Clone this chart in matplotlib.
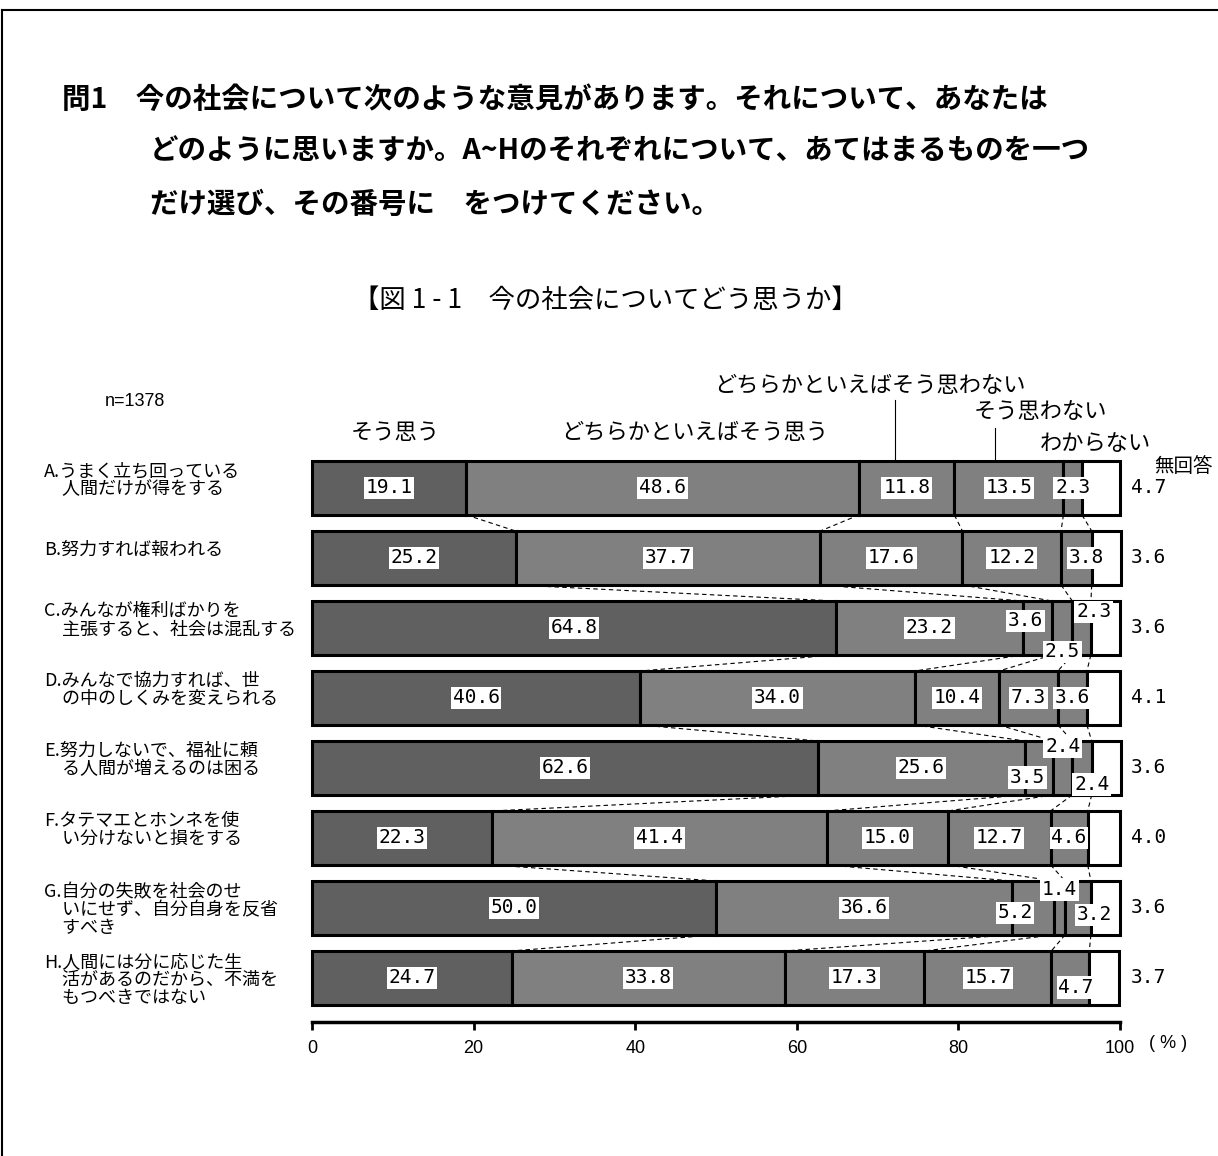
import numpy as np
import matplotlib.pyplot as plt
from matplotlib.lines import Line2D

plt.rcParams['font.family'] = ['Noto Sans CJK JP', 'DejaVu Sans']

# ---- data ----
categories = [
    "A.うまく立ち回っている\n　人間だけが得をする",
    "B.努力すれば報われる",
    "C.みんなが権利ばかりを\n　主張すると、社会は混乱する",
    "D.みんなで協力すれば、世\n　の中のしくみを変えられる",
    "E.努力しないで、福祉に頼\n　る人間が増えるのは困る",
    "F.タテマエとホンネを使\n　い分けないと損をする",
    "G.自分の失敗を社会のせ\n　いにせず、自分自身を反省\n　すべき",
    "H.人間には分に応じた生\n　活があるのだから、不満を\n　もつべきではない",
]
series_names = ["そう思う", "どちらかといえばそう思う", "どちらかといえばそう思わない",
                "そう思わない", "わからない", "無回答"]
so_omou = [19.1, 25.2, 64.8, 40.6, 62.6, 22.3, 50.0, 24.7]
dochira_omou = [48.6, 37.7, 23.2, 34.0, 25.6, 41.4, 36.6, 33.8]
dochira_omowanai = [11.8, 17.6, 3.6, 10.4, 3.5, 15.0, 5.2, 17.3]
omowanai = [13.5, 12.2, 2.5, 7.3, 2.4, 12.7, 1.4, 15.7]
wakaranai = [2.3, 3.8, 2.3, 3.6, 2.4, 4.6, 3.2, 4.7]
mukaitou = [4.7, 3.6, 3.6, 4.1, 3.6, 4.0, 3.6, 3.7]
n_total = 1378

# label nudges for the narrow segments: (row, segment) -> (dx in %, dy in bar units)
label_shift = {
    (1, 4): (1.2, 0.0),
    (2, 2): (-1.5, -0.1), (2, 3): (0.0, 0.34), (2, 4): (1.5, -0.23),
    (4, 2): (-1.4, 0.14), (4, 3): (0.0, -0.3), (4, 4): (1.2, 0.24),
    (6, 2): (-2.2, 0.07), (6, 3): (0.0, -0.26), (6, 4): (2.0, 0.1),
    (7, 4): (0.7, 0.14),
}

W, H = 1218, 1156
fig = plt.figure(figsize=(W / 100, H / 100), dpi=100)


def fx(x):
    return x / W


def fy(y):
    return 1 - y / H


# page frame (top + left)
fig.add_artist(Line2D([fx(2), 1], [fy(10), fy(10)], color='black', lw=1.5))
fig.add_artist(Line2D([fx(2), fx(2)], [fy(10), 0], color='black', lw=1.5))

# question text
title_lines = [
    (62, 100, "問1　今の社会について次のような意見があります。それについて、あなたは"),
    (150, 152, "どのように思いますか。A~Hのそれぞれについて、あてはまるものを一つ"),
    (150, 205, "だけ選び、その番号に　をつけてください。"),
]
for x, y, s in title_lines:
    fig.text(fx(x), fy(y), s, fontsize=20.5, fontweight='bold', ha='left', va='center')

fig.text(fx(605), fy(300), "【図 1 - 1　今の社会についてどう思うか】",
         fontsize=19, ha='center', va='center')
fig.text(fx(135), fy(402), f"n={n_total}", fontsize=13, ha='center', va='center',
         family=['Liberation Sans', 'DejaVu Sans'])

# ---- chart ----
ax = fig.add_axes([fx(312), fy(1022), (1120 - 312) / W, (1022 - 453) / H])

segments = [so_omou, dochira_omou, dochira_omowanai, omowanai, wakaranai, mukaitou]
colors = ['#606060', '#808080', '#808080', '#808080', '#808080', 'white']
y = np.arange(len(categories))
bar_h = 0.77
left = np.zeros(len(categories))
for vals, c in zip(segments, colors):
    ax.barh(y, vals, left=left, height=bar_h, color=c, edgecolor='black',
            linewidth=2.2, clip_on=False, zorder=3)
    left += np.array(vals)

cum = np.cumsum(np.array(segments), axis=0)

# dashed connectors between boundaries of neighbouring bars
for k in range(5):
    for i in range(len(categories) - 1):
        ax.plot([cum[k, i], cum[k, i + 1]], [i + bar_h / 2, i + 1 - bar_h / 2],
                color='black', lw=0.8, ls=(0, (4, 3)), zorder=2)

# value labels
for k in range(5):
    for i in range(len(categories)):
        v = segments[k][i]
        dx, dy = label_shift.get((i, k), (0.0, 0.0))
        ax.text(cum[k, i] - v / 2 + dx, i + dy, f"{v:.1f}", ha='center', va='center',
                fontsize=14, family='DejaVu Sans Mono', zorder=5,
                bbox=dict(facecolor='white', edgecolor='none', pad=1.2))
for i, v in enumerate(mukaitou):
    ax.text(101.3, i, f"{v:.1f}", ha='left', va='center', fontsize=14,
            family='DejaVu Sans Mono', clip_on=False)

# category labels
for i, lab in enumerate(categories):
    nl = lab.count("\n") + 1
    ax.text(-33.2, i - 0.11 if nl < 3 else i + 0.03, lab, ha='left', va='center',
            fontsize=13, linespacing=1.0, clip_on=False)

# series headers
headers = [
    (10.3, -0.8, series_names[0]),
    (47.4, -0.8, series_names[1]),
    (69.1, -1.47, series_names[2]),
    (90.1, -1.1, series_names[3]),
    (96.9, -0.64, series_names[4]),
    (107.8, -0.3, series_names[5]),
]
for hx, hy, s in headers:
    ax.text(hx, hy, s, ha='center', va='center', fontsize=16 if s != "無回答" else 14,
            clip_on=False)
ax.plot([72.2, 72.2], [-1.26, -bar_h / 2], color='black', lw=0.8, clip_on=False)
ax.plot([84.5, 84.5], [-0.86, -bar_h / 2], color='black', lw=0.8, clip_on=False)

ax.set_xlim(0, 100)
ax.set_ylim(7.63, -0.5)
for side in ['top', 'right', 'left']:
    ax.spines[side].set_visible(False)
ax.spines['bottom'].set_linewidth(2.5)
ax.set_yticks([])
ax.set_xticks([0, 20, 40, 60, 80, 100])
ax.tick_params(axis='x', length=6, width=2, labelsize=13, pad=7)
for t in ax.get_xticklabels():
    t.set_fontfamily(['Liberation Sans', 'DejaVu Sans'])
ax.patch.set_visible(False)

fig.text(fx(1168), fy(1043), "( % )", fontsize=13, ha='center', va='center',
         family=['Liberation Sans', 'DejaVu Sans'])

fig.savefig("out.png", dpi=100)
